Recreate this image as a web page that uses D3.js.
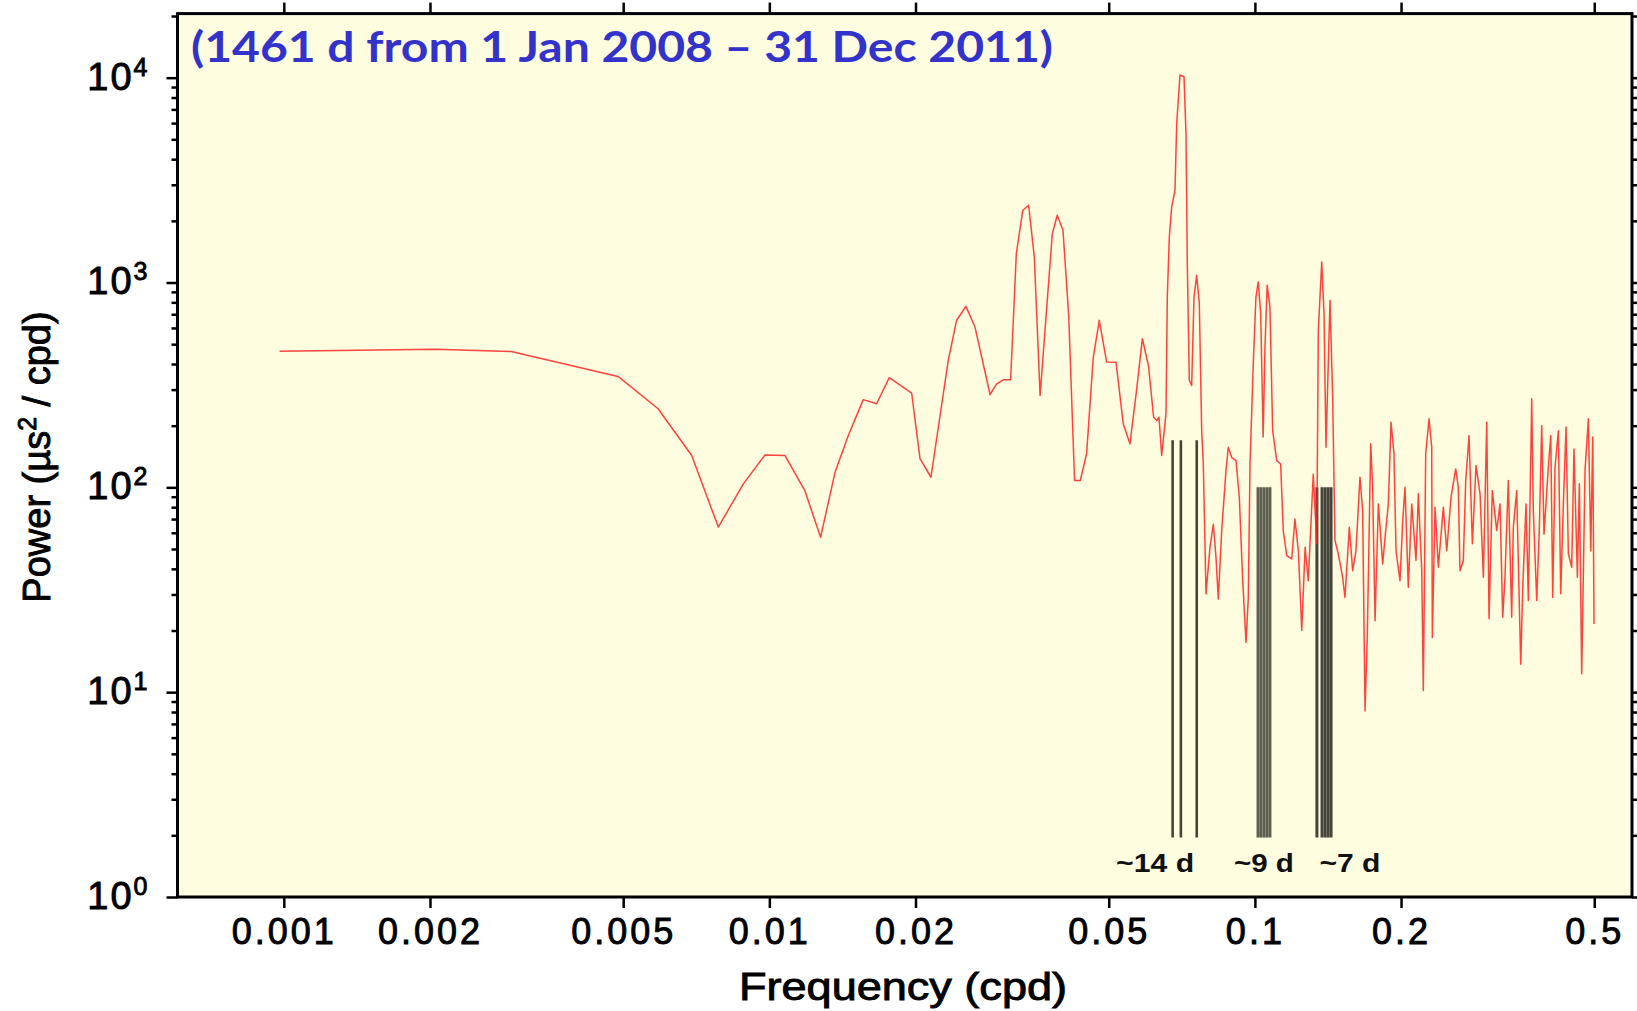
<!DOCTYPE html>
<html>
<head>
<meta charset="utf-8">
<script src="https://cdn.jsdelivr.net/npm/d3@7"></script>
<style>
  body { margin: 0; background: #fff; }
  svg { display: block; }
</style>
</head>
<body>
<svg id="chart" width="1637" height="1011"></svg>
<script>
// periodogram: frequency (cpd) and power (µs²/cpd)
const freq = [
  0.00098, 0.00205, 0.00294, 0.00488, 0.0059, 0.00692, 0.00785, 0.00884, 0.0098, 0.01077,
  0.01184, 0.01275, 0.01365, 0.01454, 0.01561, 0.01663, 0.01766, 0.01964, 0.02043, 0.02152,
  0.02336, 0.0243, 0.0254, 0.02652, 0.02848, 0.02939, 0.03032, 0.0314, 0.03226, 0.03327,
  0.0342, 0.03513, 0.03611, 0.03745, 0.03827, 0.03917, 0.04025, 0.04137, 0.04252, 0.04369,
  0.04502, 0.04646, 0.04781, 0.04951, 0.05176, 0.05357, 0.0553, 0.05707, 0.05865, 0.0604,
  0.06186, 0.0628, 0.06346, 0.06427, 0.0656, 0.06601, 0.06664, 0.0674, 0.06846, 0.06902,
  0.07011, 0.07145, 0.07213, 0.07258, 0.07327, 0.0741, 0.07492, 0.07588, 0.07683, 0.0777,
  0.0783, 0.07931, 0.08082, 0.0821, 0.08316, 0.08407, 0.08544, 0.0872, 0.08815, 0.08959,
  0.09144, 0.09288, 0.09439, 0.09588, 0.09693, 0.09772, 0.09924, 0.1005, 0.1016, 0.1028,
  0.104, 0.1049, 0.106, 0.1074, 0.1088, 0.1109, 0.113, 0.1144, 0.1163, 0.1191,
  0.1209, 0.1229, 0.1249, 0.1269, 0.1288, 0.1319, 0.1341, 0.1351, 0.1373, 0.1388,
  0.1401, 0.1428, 0.1446, 0.1462, 0.1485, 0.1516, 0.1533, 0.1565, 0.159, 0.1615,
  0.1646, 0.1667, 0.1686, 0.1704, 0.1732, 0.1748, 0.1768, 0.1796, 0.1833, 0.1854,
  0.1883, 0.1907, 0.1934, 0.1953, 0.199, 0.2016, 0.2038, 0.207, 0.2104, 0.2147,
  0.2171, 0.2206, 0.2223, 0.2248, 0.2284, 0.2313, 0.232, 0.235, 0.2387, 0.2444,
  0.2484, 0.2535, 0.2592, 0.2624, 0.2645, 0.2687, 0.2718, 0.2761, 0.2805, 0.2854,
  0.2909, 0.2955, 0.3003, 0.3036, 0.3083, 0.3148, 0.3198, 0.3239, 0.3274, 0.3326,
  0.338, 0.3406, 0.3461, 0.3528, 0.3562, 0.3618, 0.3658, 0.3717, 0.3745, 0.3806,
  0.3854, 0.3897, 0.394, 0.4021, 0.4068, 0.4106, 0.4151, 0.4217, 0.4265, 0.4318,
  0.4374, 0.4422, 0.4493, 0.4542, 0.4615, 0.4659, 0.4711, 0.4786, 0.4862, 0.4918,
  0.4964, 0.4995
];
const power = [
  462, 472, 460, 348, 242, 143, 64, 104, 144, 143,
  96, 57, 118, 179, 268, 256, 343, 288, 138, 112,
  417, 654, 765, 606, 284, 320, 335, 335, 1384, 2254,
  2384, 1333, 281, 883, 1734, 2130, 1799, 678, 108, 108,
  146, 430, 654, 409, 408, 204, 163, 300, 532, 390,
  220, 212, 220, 143, 229, 849, 1669, 2339, 2821, 5978,
  10300, 10100, 5343, 1237, 333, 314, 849, 1084, 789, 189,
  130, 30.2, 51, 66, 45.5, 28.5, 61.5, 121, 157, 140,
  135, 89.5, 35, 17.5, 29, 130, 401, 849, 1006, 705,
  176, 484, 969, 759, 189, 135, 130, 61.5, 46.4, 44.7,
  70, 49, 20, 51, 35, 116, 53, 584, 1260, 705,
  157, 818, 276, 55, 47.3, 36.4, 29, 63.8, 39.2, 49,
  112, 77, 8.1, 18.5, 163, 100, 22.3, 83, 42.3, 57,
  83, 208, 146, 49, 35, 68.8, 100, 32.5, 83, 43.9,
  93, 39.2, 10.2, 146, 216, 157, 18.5, 80, 40.7, 80,
  49, 89.5, 123, 100, 39.2, 43.9, 108, 179, 53, 128,
  93, 36.4, 208, 22.8, 96.5, 61.5, 83, 23.2, 36.4, 108,
  23.2, 63.8, 96.5, 13.7, 32.5, 83, 28, 271, 77, 28,
  63.8, 200, 59, 125, 179, 29, 125, 189, 30.2, 83,
  197, 47.3, 40.7, 154, 36.4, 104, 12.3, 121, 216, 49,
  176, 21.5
];

// tidal line markers
const bandNames = ["~14 d", "~9 d", "~7 d"];
const bandLines = [
  [0.0677, 0.0704, 0.0759],
  [0.1015, 0.1029, 0.1044, 0.1059, 0.1074],
  [0.1342, 0.1375, 0.1395, 0.1415, 0.1435]
];
const bandTop = [170, 100, 100];
const bandBottom = 1.95;
const bandLabelFreq = [0.0623, 0.1044, 0.157];
const bandLabelWidth = [78, 60, 61];

const xTicks = [0.001, 0.002, 0.005, 0.01, 0.02, 0.05, 0.1, 0.2, 0.5];
const yTicks = [1, 10, 100, 1000, 10000];
const yExp = ["0", "1", "2", "3", "4"];

const title = "(1461 d from 1 Jan 2008 \u2013 31 Dec 2011)";

const margin = { top: 13.6, left: 177.5 };
const width = 1632 - margin.left;
const height = 897 - margin.top;
const helv = "Liberation Sans, Arial, sans-serif";

const x = d3.scaleLog().domain([0.000604, 0.598]).range([0, width]);
const y = d3.scaleLog().domain([1, 20550]).range([height, 0]);

const svg = d3.select("#chart");
const g = svg.append("g").attr("transform", `translate(${margin.left},${margin.top})`);

g.append("rect")
  .attr("width", width)
  .attr("height", height)
  .attr("fill", "#fffde0");

// tidal bars
bandLines.forEach((lines, i) => {
  g.append("g")
    .selectAll("line")
    .data(lines)
    .join("line")
    .attr("x1", (d) => x(d))
    .attr("x2", (d) => x(d))
    .attr("y1", y(bandBottom))
    .attr("y2", y(bandTop[i]))
    .attr("stroke", i === 1 ? "#5f5f53" : "#44443b")
    .attr("stroke-width", i === 0 ? 2.6 : 3);
});

const line = d3.line()
  .x((d, i) => x(freq[i]))
  .y((d, i) => y(power[i]));

g.append("path")
  .datum(power)
  .attr("d", line)
  .attr("fill", "none")
  .attr("stroke", "#ff2222")
  .attr("stroke-opacity", 0.85)
  .attr("stroke-width", 1.5)
  .attr("stroke-linejoin", "round");

g.append("g")
  .selectAll("text")
  .data(bandNames)
  .join("text")
  .attr("x", (d, i) => x(bandLabelFreq[i]) - bandLabelWidth[i] / 2)
  .attr("y", 858)
  .attr("textLength", (d, i) => bandLabelWidth[i])
  .attr("lengthAdjust", "spacingAndGlyphs")
  .attr("font-family", helv)
  .attr("font-weight", "bold")
  .attr("font-size", 25)
  .attr("fill", "#111")
  .text((d) => d);

// axes
const minorTicks = y.ticks().filter((d) => yTicks.indexOf(d) < 0);

function styleAxis(sel) {
  sel.select(".domain").remove();
  sel.selectAll(".tick line").attr("stroke", "#000").attr("stroke-width", 2.5);
}

g.append("g")
  .attr("transform", `translate(0,${height})`)
  .call(d3.axisBottom(x).tickValues(xTicks).tickSize(11).tickPadding(10).tickFormat((d) => String(d)))
  .call(styleAxis)
  .call((s) => s.selectAll("text")
    .attr("font-family", helv)
    .attr("font-size", 36)
    .attr("letter-spacing", 3)
    .attr("fill", "#000")
    .attr("stroke", "#000")
    .attr("stroke-width", 0.9));

g.append("g")
  .call(d3.axisTop(x).tickValues(xTicks).tickSize(11).tickFormat(""))
  .call(styleAxis);

g.append("g")
  .call(d3.axisLeft(y).tickValues(yTicks).tickSize(11).tickFormat(""))
  .call(styleAxis);
g.append("g")
  .call(d3.axisLeft(y).tickValues(minorTicks).tickSize(6).tickFormat(""))
  .call(styleAxis);
g.append("g")
  .attr("transform", `translate(${width},0)`)
  .call(d3.axisRight(y).tickValues(yTicks).tickSize(11).tickFormat(""))
  .call(styleAxis);
g.append("g")
  .attr("transform", `translate(${width},0)`)
  .call(d3.axisRight(y).tickValues(minorTicks).tickSize(6).tickFormat(""))
  .call(styleAxis);

const yLab = g.append("g")
  .selectAll("text")
  .data(yTicks)
  .join("text")
  .attr("x", -30)
  .attr("y", (d) => y(d) + 12)
  .attr("text-anchor", "end")
  .attr("font-family", helv)
  .attr("fill", "#000")
  .attr("stroke", "#000")
  .attr("stroke-width", 0.9);
yLab.append("tspan").attr("font-size", 38).attr("letter-spacing", 2).text("10");
yLab.append("tspan").attr("font-size", 25).attr("dy", -14).text((d, i) => yExp[i]);

g.append("rect")
  .attr("width", width)
  .attr("height", height)
  .attr("fill", "none")
  .attr("stroke", "#000")
  .attr("stroke-width", 3);

// title and axis labels
svg.append("text")
  .attr("x", 191)
  .attr("y", 62)
  .attr("font-family", "Lato, 'Open Sans', sans-serif")
  .attr("font-weight", "bold")
  .attr("font-size", 42)
  .attr("fill", "#3333cc")
  .attr("textLength", 862)
  .attr("lengthAdjust", "spacingAndGlyphs")
  .text(title);

svg.append("text")
  .attr("x", 903)
  .attr("y", 1000)
  .attr("text-anchor", "middle")
  .attr("font-family", helv)
  .attr("font-size", 38)
  .attr("stroke", "#000")
  .attr("stroke-width", 0.9)
  .attr("textLength", 328)
  .attr("lengthAdjust", "spacingAndGlyphs")
  .text("Frequency (cpd)");

const yTitle = svg.append("text")
  .attr("transform", "translate(50,457) rotate(-90)")
  .attr("text-anchor", "middle")
  .attr("font-family", helv)
  .attr("font-size", 38)
  .attr("stroke", "#000")
  .attr("stroke-width", 0.9);
yTitle.append("tspan").text("Power (\u00b5s");
yTitle.append("tspan").attr("font-size", 25).attr("dy", -14).text("2");
yTitle.append("tspan").attr("dy", 14).text(" / cpd)");
</script>
</body>
</html>
